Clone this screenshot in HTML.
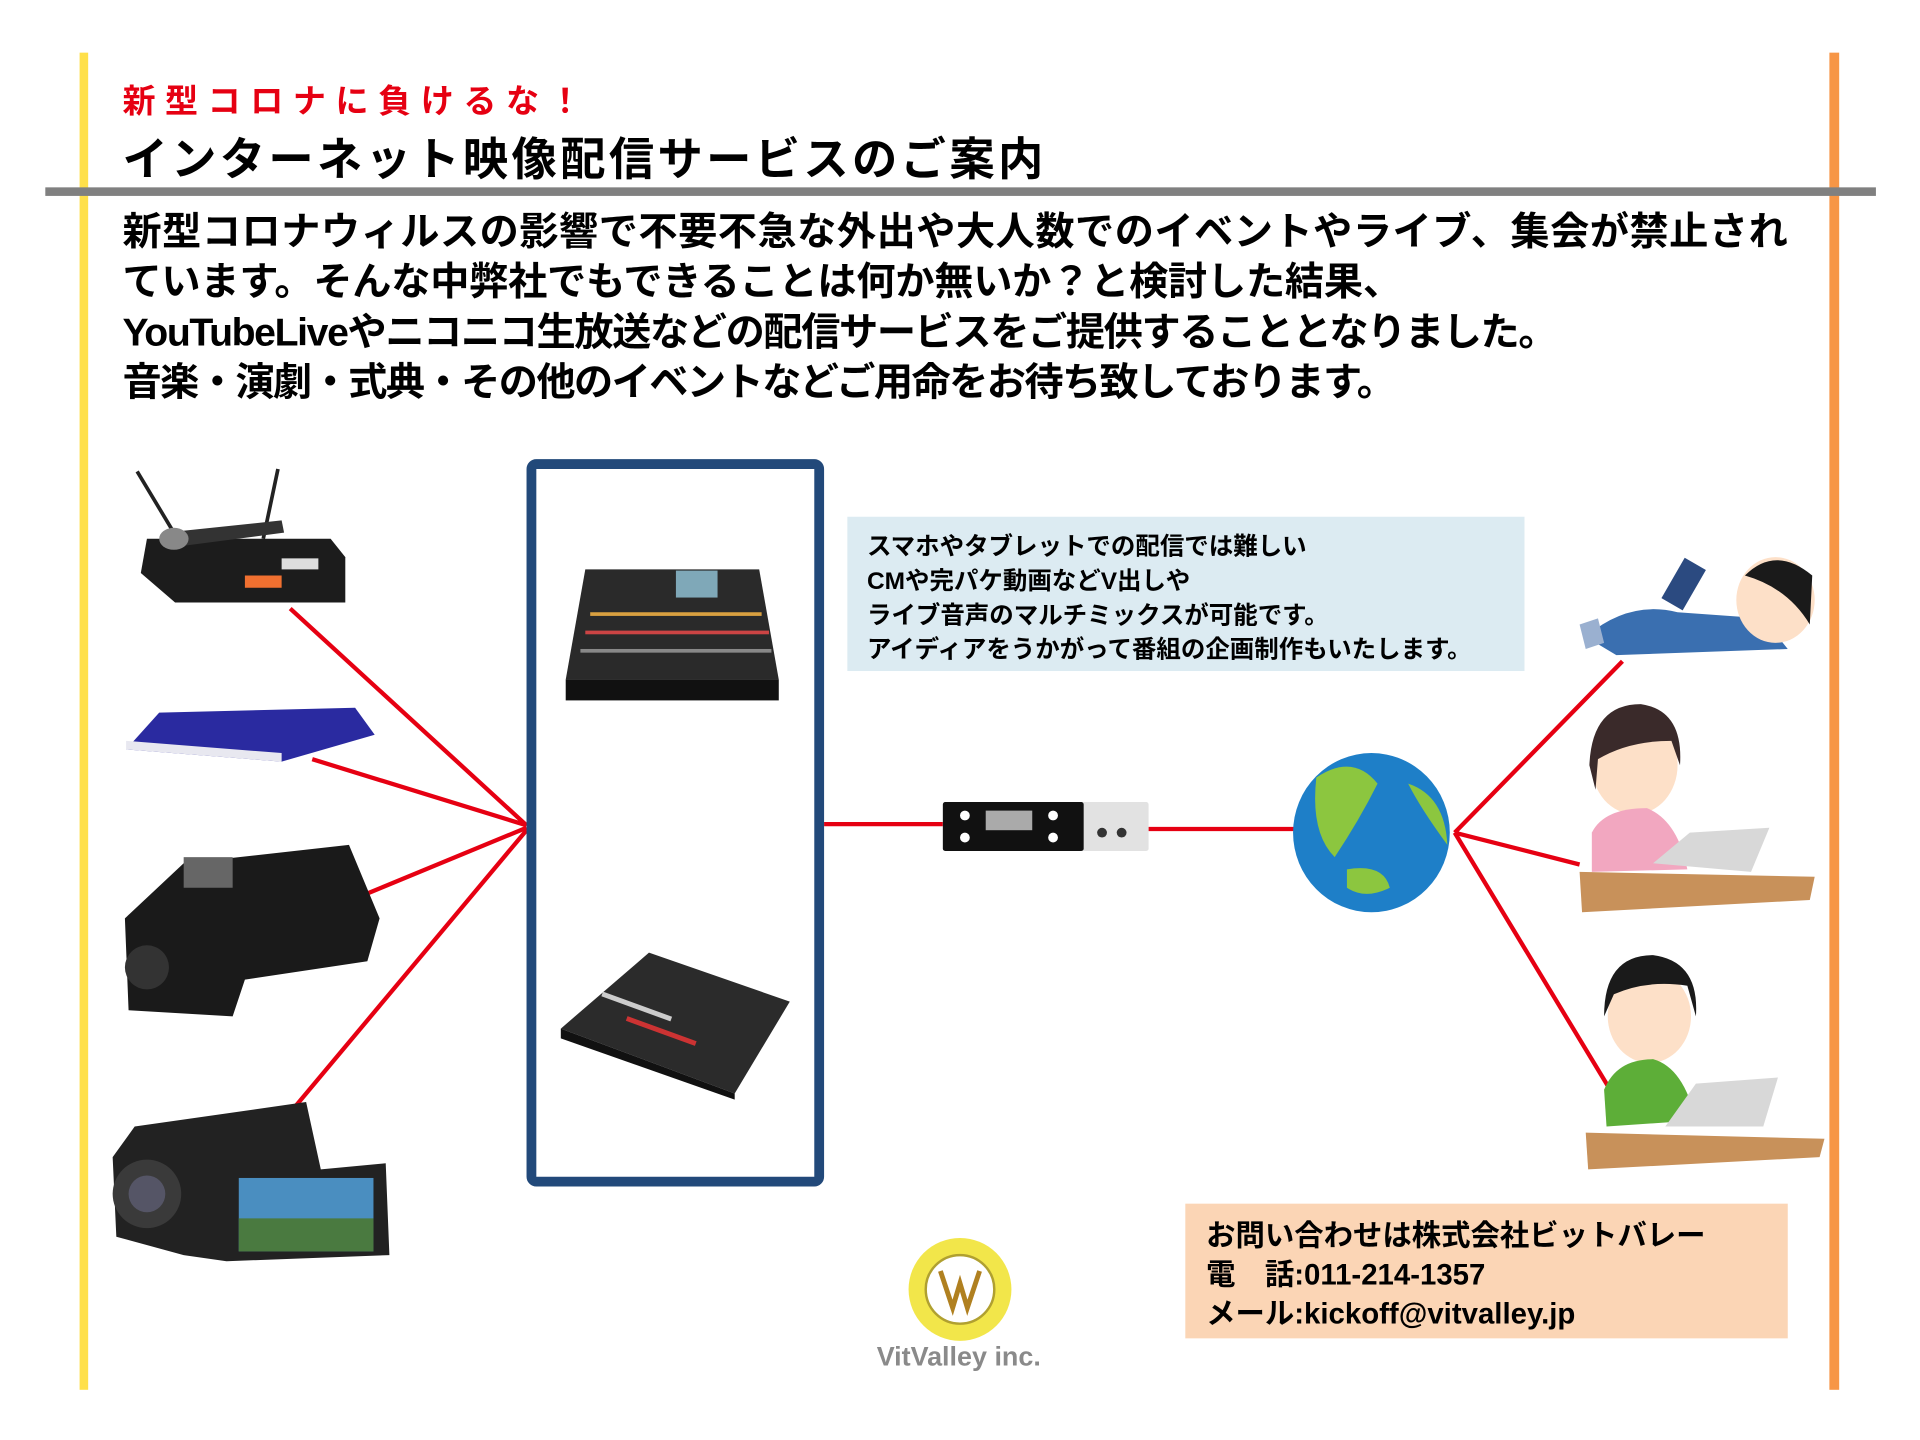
<!DOCTYPE html>
<html><head><meta charset="utf-8">
<style>
html,body{margin:0;padding:0;background:#fff;width:1920px;height:1440px;overflow:hidden}
svg{display:block}
text{font-family:"Liberation Sans","Noto Sans CJK JP",sans-serif}
</style></head><body>
<svg width="1920" height="1440" viewBox="0 0 1568 1176" xmlns="http://www.w3.org/2000/svg">
<rect width="1568" height="1176" fill="#fff"/>
<!-- side lines -->
<rect x="65" y="43" width="7" height="1092" fill="#FFE04A"/>
<rect x="1494" y="43" width="8" height="1092" fill="#F79646"/>
<rect x="37" y="153" width="1495" height="7" fill="#808080"/>
<!-- titles -->
<text x="100" y="92" font-size="27" font-weight="bold" fill="#E60012" textLength="375">新型コロナに負けるな！</text>
<text x="100" y="143" font-size="37" font-weight="bold" fill="#000" textLength="752">インターネット映像配信サービスのご案内</text>
<g font-size="32" fill="#000" font-weight="bold">
<text x="100" y="200" textLength="1360">新型コロナウィルスの影響で不要不急な外出や大人数でのイベントやライブ、集会が禁止され</text>
<text x="100" y="241" textLength="1045">ています。そんな中弊社でもできることは何か無いか？と検討した結果、</text>
<text x="100" y="282" textLength="1172">YouTubeLiveやニコニコ生放送などの配信サービスをご提供することとなりました。</text>
<text x="100" y="323" textLength="1040">音楽・演劇・式典・その他のイベントなどご用命をお待ち致しております。</text>
</g>
<!-- red connectors -->
<g stroke="#E60012" stroke-width="3.5" fill="none">
<line x1="237" y1="497" x2="430" y2="674"/>
<line x1="255" y1="620" x2="430" y2="674"/>
<line x1="275" y1="740" x2="430" y2="676"/>
<line x1="240" y1="905" x2="430" y2="678"/>
<line x1="673" y1="673" x2="770" y2="673"/>
<line x1="938" y1="677" x2="1060" y2="677"/>
<line x1="1188" y1="680" x2="1325" y2="540"/>
<line x1="1188" y1="680" x2="1290" y2="706"/>
<line x1="1188" y1="680" x2="1318" y2="895"/>
</g>
<!-- blue box -->
<rect x="434" y="379" width="235" height="586" rx="4" fill="none" stroke="#22497A" stroke-width="8"/>
<!-- mixer -->
<path d="M478 465 L620 465 L636 555 L462 555 Z" fill="#2a2a2a"/>
<rect x="462" y="555" width="174" height="17" fill="#111"/>
<rect x="552" y="466" width="34" height="22" fill="#7fa8b8"/>
<g fill="#d9a040"><rect x="482" y="500" width="140" height="3"/><rect x="478" y="515" width="150" height="3" fill="#c44"/><rect x="474" y="530" width="156" height="3" fill="#888"/></g>
<!-- switcher -->
<path d="M530 778 L645 818 L600 893 L458 840 Z" fill="#2b2b2b"/>
<path d="M458 840 L600 893 L600 898 L458 848 Z" fill="#111"/>
<g fill="#ccc"><rect x="490" y="820" width="60" height="4" transform="rotate(20 520 822)"/><rect x="510" y="840" width="60" height="4" fill="#c33" transform="rotate(20 540 842)"/></g>
<!-- mic receiver -->
<line x1="145" y1="440" x2="112" y2="385" stroke="#222" stroke-width="3"/>
<line x1="215" y1="440" x2="227" y2="383" stroke="#222" stroke-width="3"/>
<path d="M120 440 L270 440 L282 455 L282 492 L143 492 L115 468 Z" fill="#1c1c1c"/>
<rect x="200" y="470" width="30" height="10" fill="#f07030"/>
<rect x="230" y="456" width="30" height="9" fill="#ddd"/>
<path d="M135 435 L230 425 L232 435 L140 447 Z" fill="#333"/>
<ellipse cx="142" cy="440" rx="12" ry="9" fill="#888"/>
<!-- blue device -->
<path d="M130 582 L290 578 L306 600 L230 622 L103 612 Z" fill="#2a2aa0"/>
<path d="M103 605 L230 615 L230 622 L103 612 Z" fill="#e8e8f0"/>
<!-- camcorder 1 -->
<path d="M150 705 L285 690 L310 750 L300 785 L200 800 L190 830 L105 825 L102 750 Z" fill="#1a1a1a"/>
<circle cx="120" cy="790" r="18" fill="#333"/>
<rect x="150" y="700" width="40" height="25" fill="#666"/>
<!-- camcorder 2 -->
<path d="M110 920 L250 900 L262 955 L315 950 L318 1025 L185 1030 L150 1025 L95 1010 L92 945 Z" fill="#222"/>
<circle cx="120" cy="975" r="28" fill="#3a3a3a"/><circle cx="120" cy="975" r="15" fill="#556"/>
<rect x="195" y="962" width="110" height="60" fill="#4a8ec0"/>
<rect x="195" y="995" width="110" height="27" fill="#4a7a40"/>
<!-- encoder -->
<rect x="770" y="655" width="168" height="40" rx="2" fill="#e2e2e2"/>
<rect x="770" y="655" width="115" height="40" rx="2" fill="#111"/>
<rect x="805" y="662" width="38" height="16" fill="#aaa"/>
<g fill="#fff"><circle cx="788" cy="666" r="4"/><circle cx="788" cy="684" r="4"/><circle cx="860" cy="666" r="4"/><circle cx="860" cy="684" r="4"/></g>
<g fill="#333"><circle cx="900" cy="680" r="4"/><circle cx="916" cy="680" r="4"/></g>
<!-- globe -->
<ellipse cx="1120" cy="680" rx="64" ry="65" fill="#1E7FC8"/>
<path d="M1075 635 Q1105 615 1125 640 Q1110 670 1090 700 Q1070 680 1075 635 Z" fill="#8CC63F"/>
<path d="M1150 640 Q1180 650 1182 690 Q1160 660 1150 640 Z" fill="#8CC63F"/>
<path d="M1100 710 Q1130 705 1135 725 Q1115 735 1100 725 Z" fill="#8CC63F"/>
<!-- info box -->
<rect x="692" y="422" width="553" height="126" fill="#DCEBF2"/>
<g font-size="20" fill="#000" font-weight="bold">
<text x="708" y="453">スマホやタブレットでの配信では難しい</text>
<text x="708" y="481">CMや完パケ動画などV出しや</text>
<text x="708" y="509">ライブ音声のマルチミックスが可能です。</text>
<text x="708" y="537">アイディアをうかがって番組の企画制作もいたします。</text>
</g>
<!-- people -->
<!-- lying boy -->
<path d="M1295 520 Q1330 490 1370 500 L1440 505 L1460 530 L1320 535 Z" fill="#3a6fb0"/>
<ellipse cx="1450" cy="490" rx="32" ry="35" fill="#fde0c8"/>
<path d="M1425 470 Q1450 445 1480 470 L1478 510 Q1460 480 1425 470 Z" fill="#1a1a1a"/>
<rect x="1365" y="458" width="20" height="38" fill="#2b4a80" transform="rotate(30 1375 477)"/>
<path d="M1290 510 L1305 505 L1310 525 L1295 530 Z" fill="#9ab0d0"/>
<!-- girl -->
<ellipse cx="1335" cy="625" rx="35" ry="40" fill="#fde0c8"/>
<path d="M1298 625 Q1300 575 1340 575 Q1375 580 1372 625 L1365 605 Q1330 605 1305 620 L1303 645 Z" fill="#3a2a2a"/>
<path d="M1300 680 Q1310 660 1345 660 Q1370 670 1378 710 L1300 712 Z" fill="#F2A7C0"/>
<path d="M1350 705 L1380 680 L1445 676 L1430 712 Z" fill="#d8d8d8"/>
<path d="M1290 712 L1482 716 L1478 735 L1292 745 Z" fill="#C8915A"/>
<!-- boy -->
<ellipse cx="1347" cy="830" rx="34" ry="38" fill="#fde0c8"/>
<path d="M1310 830 Q1310 780 1350 780 Q1388 785 1385 830 L1378 805 Q1345 800 1318 812 Z" fill="#1a1a1a"/>
<path d="M1310 890 Q1320 865 1350 865 Q1375 872 1385 915 L1312 920 Z" fill="#5DAE38"/>
<path d="M1360 920 L1385 885 L1452 880 L1440 920 Z" fill="#d8d8d8"/>
<path d="M1295 925 L1490 930 L1486 945 L1297 955 Z" fill="#C8915A"/>
<!-- contact box -->
<rect x="968" y="983" width="492" height="110" fill="#FBD5B5"/>
<g font-size="24" fill="#000" font-weight="bold">
<text x="985" y="1017">お問い合わせは株式会社ビットバレー</text>
<text x="985" y="1049">電　話:011-214-1357</text>
<text x="985" y="1081">メール:kickoff@vitvalley.jp</text>
</g>
<!-- logo -->
<circle cx="784" cy="1053" r="42" fill="#F2E64A"/>
<circle cx="784" cy="1053" r="28" fill="#fff" stroke="#b0a030" stroke-width="2"/>
<path d="M768 1038 L778 1068 L784 1048 L790 1068 L800 1038" fill="none" stroke="#b08020" stroke-width="4"/>
<text x="783" y="1115" font-size="22" font-weight="bold" fill="#8a8a8a" text-anchor="middle">VitValley inc.</text>
</svg>
</body></html>
